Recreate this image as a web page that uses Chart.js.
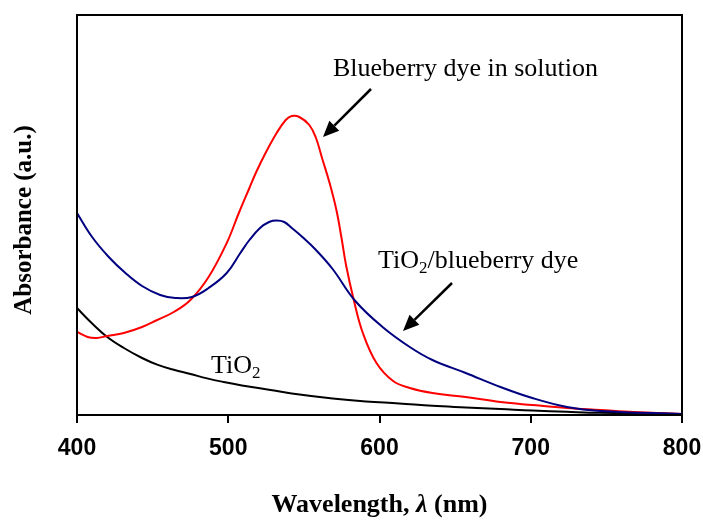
<!DOCTYPE html>
<html>
<head>
<meta charset="utf-8">
<script src="https://cdn.jsdelivr.net/npm/chart.js@4/dist/chart.umd.min.js"></script>
<style>
  html, body { margin: 0; padding: 0; background: #fff; }
  #wrap { width: 703px; height: 522px; }
</style>
</head>
<body>
<div id="wrap"><canvas id="absChart" width="703" height="522"></canvas></div>
<script>
// Spectrum of the dye in solution (nm, a.u.)
const dyeWavelength = [400, 407, 413, 420, 431, 443, 453, 464, 475, 487, 499, 507, 514, 518.5, 525, 532, 538, 542, 547, 553.6, 558, 562, 567, 571.5, 575, 578, 583, 589, 598, 609, 620, 635, 657, 680, 701, 724, 746, 768, 800];
const dyeAbsorbance = [0.415, 0.39, 0.385, 0.395, 0.41, 0.44, 0.475, 0.515, 0.575, 0.69, 0.86, 1.01, 1.135, 1.215, 1.315, 1.41, 1.475, 1.495, 1.49, 1.45, 1.385, 1.285, 1.16, 1.025, 0.88, 0.745, 0.575, 0.41, 0.26, 0.17, 0.135, 0.11, 0.09, 0.065, 0.05, 0.035, 0.025, 0.015, 0.005];

// Dye adsorbed on TiO2
const filmWavelength = [400, 410, 421, 432, 443, 455, 465, 476, 487, 499, 508, 514, 521, 527, 532, 537, 542, 549, 558, 569, 584, 602, 620, 635, 657, 680, 701, 724, 746, 800];
const filmAbsorbance = [1.01, 0.89, 0.79, 0.71, 0.645, 0.60, 0.585, 0.59, 0.635, 0.71, 0.81, 0.875, 0.935, 0.965, 0.972, 0.965, 0.935, 0.89, 0.825, 0.73, 0.57, 0.44, 0.34, 0.275, 0.21, 0.14, 0.085, 0.04, 0.02, 0.005];

// Bare TiO2
const tio2Wavelength = [400, 409, 420, 431, 443, 453, 464, 475, 486, 497, 509, 528, 542, 569, 591, 613, 635, 657, 680, 701, 724, 746, 800];
const tio2Absorbance = [0.535, 0.465, 0.39, 0.335, 0.285, 0.252, 0.226, 0.205, 0.183, 0.165, 0.148, 0.125, 0.108, 0.083, 0.068, 0.058, 0.046, 0.038, 0.03, 0.022, 0.016, 0.011, 0.005];

const xTicks = [400, 500, 600, 700, 800];

function toPoints(xs, ys) {
  return xs.map((x, i) => ({ x: x, y: ys[i] }));
}

const SERIF = "'Liberation Serif', 'Times New Roman', serif";

// Arrow with filled head, from (x1,y1) to tip (x2,y2)
function drawArrow(ctx, x1, y1, x2, y2) {
  const ang = Math.atan2(y2 - y1, x2 - x1);
  const head = 16, half = 7;
  const bx = x2 - head * Math.cos(ang), by = y2 - head * Math.sin(ang);
  ctx.save();
  ctx.strokeStyle = "#000";
  ctx.fillStyle = "#000";
  ctx.lineWidth = 2.5;
  ctx.beginPath();
  ctx.moveTo(x1, y1);
  ctx.lineTo(bx, by);
  ctx.stroke();
  ctx.beginPath();
  ctx.moveTo(x2, y2);
  ctx.lineTo(bx + half * Math.sin(ang), by - half * Math.cos(ang));
  ctx.lineTo(bx - half * Math.sin(ang), by + half * Math.cos(ang));
  ctx.closePath();
  ctx.fill();
  ctx.restore();
}

// "TiO" with subscript 2, then optional trailing text
function drawTiO2(ctx, x, y, tail) {
  ctx.font = "26px " + SERIF;
  ctx.fillText("TiO", x, y);
  let w = ctx.measureText("TiO").width;
  ctx.font = "17px " + SERIF;
  ctx.fillText("2", x + w, y + 5);
  w += ctx.measureText("2").width;
  if (tail) {
    ctx.font = "26px " + SERIF;
    ctx.fillText(tail, x + w, y);
  }
}

const decorations = {
  id: "decorations",
  afterDraw(chart) {
    const ctx = chart.ctx;
    const a = chart.chartArea;
    ctx.save();

    // frame round the plot
    ctx.strokeStyle = "#000";
    ctx.lineWidth = 2;
    ctx.strokeRect(a.left, a.top, a.right - a.left, a.bottom - a.top);

    ctx.fillStyle = "#000";
    ctx.textAlign = "left";
    ctx.textBaseline = "alphabetic";

    ctx.font = "26px " + SERIF;
    ctx.fillText("Blueberry dye in solution", 333, 76);
    drawArrow(ctx, 371, 89, 323, 137);

    drawTiO2(ctx, 378, 268, "/blueberry dye");
    drawArrow(ctx, 452, 283, 403, 331);

    drawTiO2(ctx, 211, 373, "");

    // x axis title with italic lambda
    const parts = [
      { t: "Wavelength, ", f: "bold 26px " + SERIF },
      { t: "\u03bb", f: "italic bold 26px " + SERIF },
      { t: " (nm)", f: "bold 26px " + SERIF }
    ];
    let total = 0;
    parts.forEach(p => { ctx.font = p.f; p.w = ctx.measureText(p.t).width; total += p.w; });
    let x = (a.left + a.right) / 2 - total / 2;
    parts.forEach(p => { ctx.font = p.f; ctx.fillText(p.t, x, 512); x += p.w; });

    // y axis title
    ctx.translate(31, (a.top + a.bottom) / 2 + 5);
    ctx.rotate(-Math.PI / 2);
    ctx.textAlign = "center";
    ctx.font = "bold 25px " + SERIF;
    ctx.fillText("Absorbance (a.u.)", 0, 0);

    ctx.restore();
  }
};

const lineStyle = {
  pointRadius: 0,
  borderWidth: 2,
  fill: false,
  tension: 0.4
};

new Chart(document.getElementById("absChart").getContext("2d"), {
  type: "line",
  data: {
    datasets: [
      Object.assign({ label: "TiO2/blueberry dye", data: toPoints(filmWavelength, filmAbsorbance), borderColor: "#000080" }, lineStyle),
      Object.assign({ label: "Blueberry dye in solution", data: toPoints(dyeWavelength, dyeAbsorbance), borderColor: "#ff0000" }, lineStyle),
      Object.assign({ label: "TiO2", data: toPoints(tio2Wavelength, tio2Absorbance), borderColor: "#000000" }, lineStyle)
    ]
  },
  options: {
    responsive: false,
    animation: false,
    layout: { padding: { top: 15, right: 21, left: 0, bottom: 0 } },
    plugins: {
      legend: { display: false },
      tooltip: { enabled: false }
    },
    scales: {
      x: {
        type: "linear",
        min: 400,
        max: 800,
        afterBuildTicks: (scale) => { scale.ticks = xTicks.map(v => ({ value: v })); },
        afterFit: (scale) => {
          scale.height = 107;
          // let the last label hang over the edge instead of shrinking the plot
          scale.paddingLeft = 0;
          scale.paddingRight = 0;
        },
        ticks: {
          color: "#000",
          padding: 12,
          font: { family: "'Liberation Sans', Arial, sans-serif", size: 23, weight: "bold" }
        },
        grid: { drawOnChartArea: false, drawTicks: true, tickLength: 8, color: "#000", lineWidth: 2 },
        border: { display: true, color: "#000", width: 2 }
      },
      y: {
        min: 0,
        max: 2,
        afterFit: (scale) => { scale.width = 77; },
        ticks: { display: false },
        grid: { display: false },
        border: { display: true, color: "#000", width: 2 }
      }
    }
  },
  plugins: [decorations]
});
</script>
</body>
</html>
